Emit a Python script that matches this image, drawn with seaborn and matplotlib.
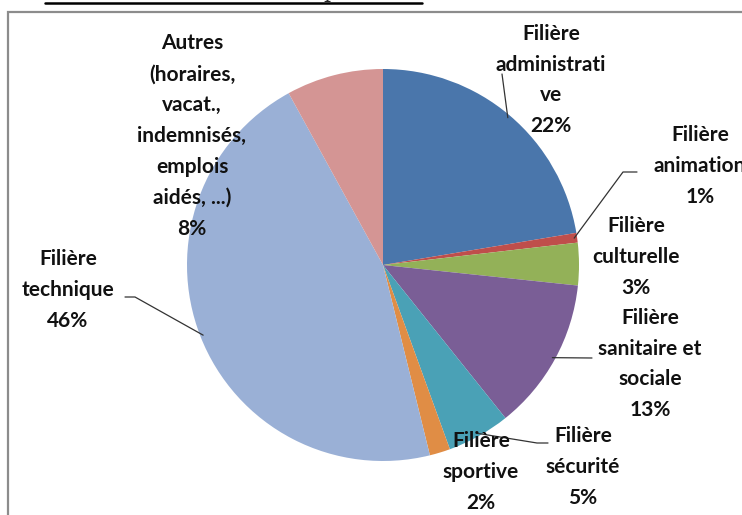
import numpy as np
import matplotlib
matplotlib.use("Agg")
import matplotlib.pyplot as plt
import seaborn as sns
from matplotlib.patches import Rectangle
from matplotlib.lines import Line2D

# data
labels = ["Filière\nadministrati\nve", "Filière\nanimation", "Filière\nculturelle",
          "Filière\nsanitaire et\nsociale", "Filière\nsécurité", "Filière\nsportive",
          "Filière\ntechnique", "Autres\n(horaires,\nvacat.,\nindemnisés,\nemplois\naidés, ...)"]
values = [22.4, 0.8, 3.5, 12.6, 5.2, 1.7, 45.9, 8.0]
pct_labels = ["22%", "1%", "3%", "13%", "5%", "2%", "46%", "8%"]
colors = ["#4a76ab", "#bf4e4b", "#93b158", "#7a5e96", "#4aa1b6", "#e08d45", "#9ab0d6", "#d49594"]

sns.set_theme(style="white")
plt.rcParams["font.family"] = ["Lato", "DejaVu Sans"]

W, H = 742, 515
cx, cy, R = 383, 265, 196

fig = plt.figure(figsize=(W / 100, H / 100), dpi=100)
ax = fig.add_axes([(cx - R) / W, (H - cy - R) / H, 2 * R / W, 2 * R / H])

wedges, _ = ax.pie(values, colors=colors, startangle=90, counterclock=False,
                   wedgeprops=dict(linewidth=0))
ax.set_xlim(-1, 1)
ax.set_ylim(-1, 1)
ax.set_aspect("equal")
ax.axis("off")


def px(x, y):
    return (x - cx) / R, (cy - y) / R


# label centres and leader elbows in pixels
label_pos = [(551, 80), (700, 166), (636, 257), (650, 364), (583, 467), (481, 472), (68, 290), (192, 136)]
leaders = {0: [(502, 74)], 1: [(623, 172), (637, 172)], 3: [(592, 358)],
           4: [(537, 443), (548, 443)], 6: [(135, 297), (125, 297)]}

for i, w in enumerate(wedges):
    tx, ty = px(*label_pos[i])
    ax.text(tx, ty, labels[i] + "\n" + pct_labels[i], ha="center", va="center",
            fontsize=15, fontweight="bold", color="#111111", linespacing=1.68,
            clip_on=False, zorder=5)
    if i in leaders:
        ang = np.deg2rad((w.theta1 + w.theta2) / 2)
        xs = [0.985 * np.cos(ang)] + [px(*p)[0] for p in leaders[i]]
        ys = [0.985 * np.sin(ang)] + [px(*p)[1] for p in leaders[i]]
        ax.add_line(Line2D(xs, ys, color="#333333", lw=0.9, clip_on=False, zorder=4))

# page frame and cut heading underline
fig.patches.append(Rectangle((8 / W, -0.1), 2, (H - 12) / H + 0.1, transform=fig.transFigure,
                             fill=False, edgecolor="#8c8c8c", lw=1.6))
fig.add_artist(Line2D([45 / W, 422 / W], [(H - 3) / H] * 2, color="black", lw=1.8,
                      transform=fig.transFigure))
fig.text(330 / W, (H + 3) / H, "p", fontsize=16, family="DejaVu Serif", va="baseline", ha="center")

fig.savefig("out.png", dpi=100)
